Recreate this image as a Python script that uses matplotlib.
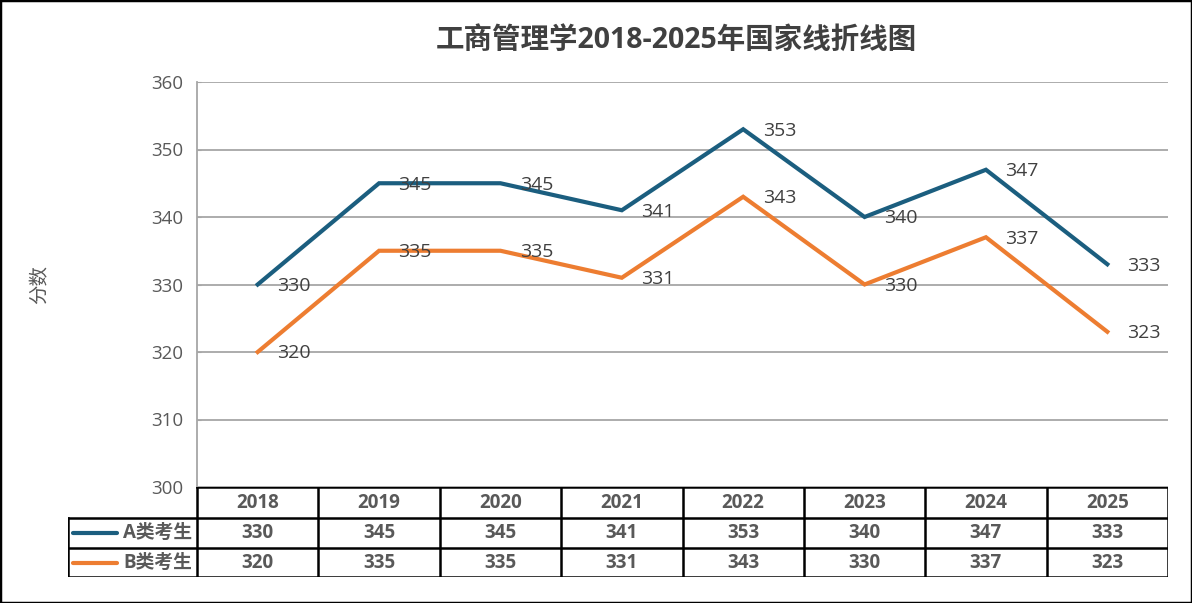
import numpy as np
import matplotlib.pyplot as plt
from matplotlib.patches import Rectangle

plt.rcParams['font.family'] = ['Open Sans', 'Noto Sans CJK SC', 'DejaVu Sans']

years = ['2018', '2019', '2020', '2021', '2022', '2023', '2024', '2025']
a_scores = [330, 345, 345, 341, 353, 340, 347, 333]
b_scores = [320, 335, 335, 331, 343, 330, 337, 323]
series = [('A类考生', a_scores, '#1B5E7F'), ('B类考生', b_scores, '#ED7D31')]
title = '工商管理学2018-2025年国家线折线图'

W, H = 1192, 603
fig = plt.figure(figsize=(W / 100, H / 100), dpi=100)
fig.patches.append(Rectangle((0, 0), 1, 1, transform=fig.transFigure, fill=False,
                             edgecolor='black', lw=2.5, zorder=10))

# plot area in pixels
L, R, T, B = 197, 1168, 82, 487
ax = fig.add_axes([L / W, 1 - B / H, (R - L) / W, (B - T) / H])
x = np.arange(len(years))
for name, vals, c in series:
    ax.plot(x, vals, color=c, lw=3, solid_joinstyle='miter')
    for xi, v in zip(x, vals):
        ax.annotate(str(v), (xi, v), xytext=(14, -1), textcoords='offset points',
                    ha='left', va='center', fontsize=14, color='#404040')
ax.set_xlim(-0.5, len(years) - 0.5)
ax.set_ylim(300, 360)
ax.set_yticks(range(300, 361, 10))
ax.set_xticks([])
ax.grid(axis='y', color='#A6A6A6', lw=1.3)
ax.set_axisbelow(True)
for s in ['top', 'right', 'bottom']:
    ax.spines[s].set_visible(False)
ax.spines['left'].set_color('#A6A6A6')
ax.spines['left'].set_linewidth(1.3)
ax.tick_params(axis='y', length=3, direction='in', color='#A6A6A6', labelsize=13.5,
               labelcolor='#595959', pad=10)
fig.text(40 / W, 1 - 285 / H, '分数', rotation=90, ha='center', va='center',
         fontsize=14, color='#595959', family=['Noto Sans CJK SC'])

fig.text(676 / W, 1 - 40 / H, title, ha='center', va='center', fontsize=20.5,
         fontweight='bold', color='#404040')

# data table under the plot
TL, TT, TB = 68, 487, 577
tax = fig.add_axes([TL / W, 1 - TB / H, (R - TL) / W, (TB - TT) / H])
tax.set_xlim(TL, R)
tax.set_ylim(TB - TT, 0)
tax.axis('off')
colw = (R - L) / len(years)
rows = [0, 31, 61, 90]
lk = dict(color='black', lw=1.8, solid_capstyle='projecting')
tax.plot([L, R], [rows[0], rows[0]], **lk)
for r in rows[1:]:
    tax.plot([TL, R], [r, r], **lk)
for i in range(len(years) + 1):
    tax.plot([L + i * colw] * 2, [rows[0], rows[-1]], **lk)
tax.plot([TL, TL], [rows[1], rows[-1]], **lk)
for i, yr in enumerate(years):
    cx = L + (i + 0.5) * colw
    tax.text(cx, (rows[0] + rows[1]) / 2, yr, ha='center', va='center',
             fontsize=13.5, fontweight='bold', color='#595959')
    for j, (name, vals, c) in enumerate(series):
        tax.text(cx, (rows[j + 1] + rows[j + 2]) / 2, str(vals[i]), ha='center',
                 va='center', fontsize=13.5, fontweight='bold', color='#595959')
for j, (name, vals, c) in enumerate(series):
    cy = (rows[j + 1] + rows[j + 2]) / 2
    tax.plot([73, 117], [cy, cy], color=c, lw=3, solid_capstyle='round')
    tax.text(123, cy, name, ha='left', va='center', fontsize=13.5,
             fontweight='bold', color='#595959')

plt.savefig('out.png', dpi=100)
